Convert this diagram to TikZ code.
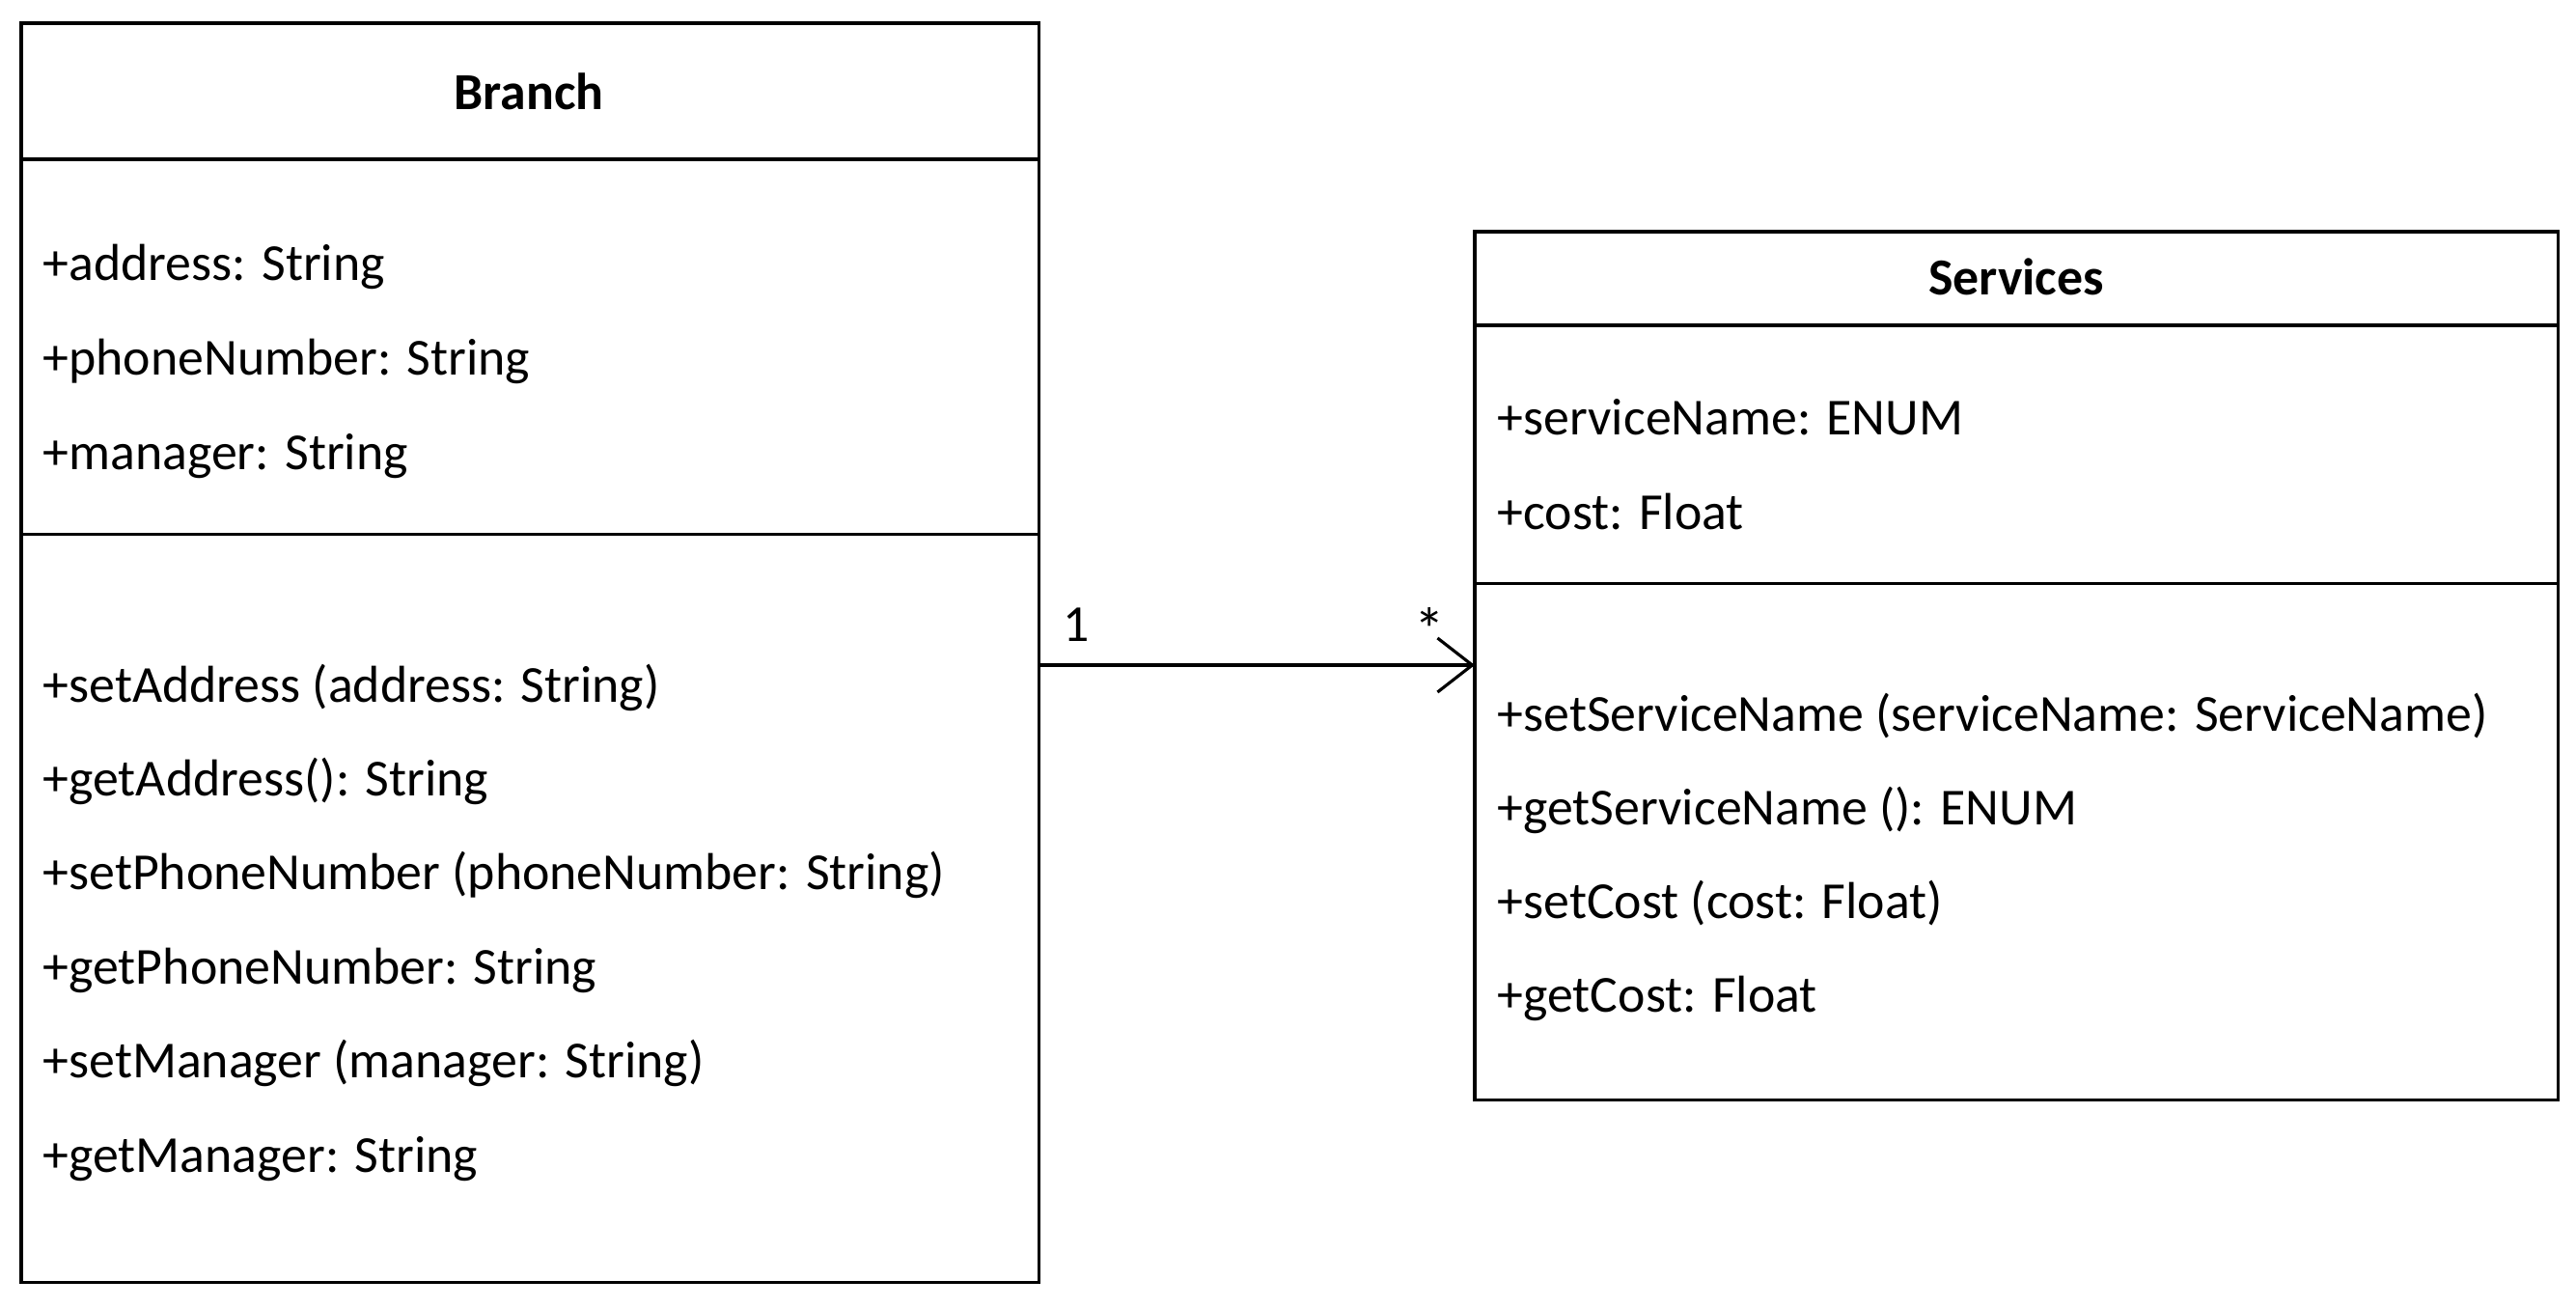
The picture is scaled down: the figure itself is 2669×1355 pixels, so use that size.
\documentclass[tikz,border=0pt]{standalone}
\usepackage{fontspec}
\setmainfont{Carlito}
\usetikzlibrary{arrows.meta,positioning}

\begin{document}
\begin{tikzpicture}[x=0.01cm, y=-0.01cm,
  umlbox/.style={draw, line width=0.9pt, inner sep=0pt, outer sep=0pt, anchor=north west},
  member/.style={anchor=base west, inner sep=0pt, font=\fontsize{15.3}{18}\selectfont},
  classname/.style={anchor=base, inner sep=0pt, font=\fontsize{15.3}{18}\selectfont\bfseries},
  assoc/.style={line width=0.9pt, -{Straight Barb[length=0.36cm, width=0.56cm, line width=0.9pt]}}]
  \useasboundingbox (0,0) rectangle (2669,1355);

  % Branch class
  \node[umlbox, minimum width=10.54cm, minimum height=1.41cm] (branch) at (22,24) {};
  \node[umlbox, minimum width=10.54cm, minimum height=3.88cm, below=0pt of branch] (branchattr) {};
  \node[umlbox, minimum width=10.54cm, minimum height=7.75cm, below=0pt of branchattr] (branchops) {};
  \node[classname] (branchname) at (548,114) {Branch};
  \foreach \txt [count=\i] in {{+address: String}, {+phoneNumber: String}, {+manager: String}}
    \node[member] (ba\i) at (44,{291+98*(\i-1)}) {\txt};
  \foreach \txt [count=\i] in {{+setAddress (address: String)}, {+getAddress(): String},
      {+setPhoneNumber (phoneNumber: String)}, {+getPhoneNumber: String},
      {+setManager (manager: String)}, {+getManager: String}}
    \node[member] (bo\i) at (44,{727+97.4*(\i-1)}) {\txt};

  % Services class
  \node[umlbox, minimum width=11.22cm, minimum height=0.97cm] (serv) at (1528,240) {};
  \node[umlbox, minimum width=11.22cm, minimum height=2.67cm, below=0pt of serv] (servattr) {};
  \node[umlbox, minimum width=11.22cm, minimum height=5.35cm, below=0pt of servattr] (servops) {};
  \node[classname] (servname) at (2089,306) {Services};
  \foreach \txt [count=\i] in {{+serviceName: ENUM}, {+cost: Float}}
    \node[member] (sa\i) at (1551,{451+97*(\i-1)}) {\txt};
  \foreach \txt [count=\i] in {{+setServiceName (serviceName: ServiceName)}, {+getServiceName (): ENUM},
      {+setCost (cost: Float)}, {+getCost: Float}}
    \node[member] (so\i) at (1551,{757+97*(\i-1)}) {\txt};

  % association
  \coordinate (link) at (1076,689);
  \draw[assoc] (link -| branchops.east) -- (link -| servops.west);
  \node[member] (one) at (1101,665) {1};
  \node[member, anchor=base, font=\fontsize{18}{18}\selectfont] (many) at (1481,674) {*};
\end{tikzpicture}
\end{document}
